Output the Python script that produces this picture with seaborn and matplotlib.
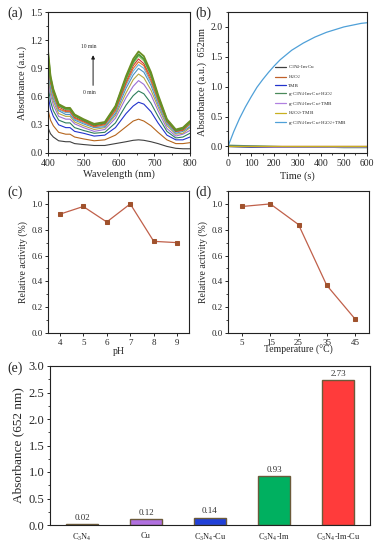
import numpy as np
import matplotlib
matplotlib.use("Agg")
import matplotlib.pyplot as plt
from matplotlib.ticker import MultipleLocator
import seaborn as sns

# ---- (a) UV-vis spectra over 10 min ----
wl = [400, 407, 415, 430, 450, 462, 475, 500, 530, 560, 590, 620, 640, 655, 670, 690, 710, 735, 760, 780, 800]
spec_gray = [0.27, 0.205, 0.17, 0.13, 0.12, 0.12, 0.10, 0.09, 0.08, 0.08, 0.10, 0.12, 0.135, 0.14, 0.135, 0.12, 0.10, 0.07, 0.05, 0.045, 0.045]
spec_brown = [0.46, 0.35, 0.29, 0.22, 0.20, 0.20, 0.17, 0.15, 0.13, 0.14, 0.19, 0.28, 0.34, 0.36, 0.34, 0.29, 0.22, 0.14, 0.10, 0.10, 0.11]
spec_blue = [0.62, 0.47, 0.39, 0.30, 0.27, 0.27, 0.23, 0.21, 0.18, 0.19, 0.27, 0.42, 0.50, 0.54, 0.52, 0.44, 0.32, 0.19, 0.14, 0.14, 0.17]
spec_teal = [0.72, 0.55, 0.45, 0.35, 0.32, 0.32, 0.27, 0.24, 0.21, 0.22, 0.32, 0.51, 0.61, 0.66, 0.63, 0.53, 0.39, 0.23, 0.16, 0.17, 0.21]
spec_purple = [0.82, 0.62, 0.51, 0.39, 0.36, 0.36, 0.31, 0.27, 0.23, 0.25, 0.37, 0.59, 0.71, 0.77, 0.73, 0.62, 0.45, 0.26, 0.18, 0.20, 0.24]
spec_olive = [0.88, 0.66, 0.55, 0.42, 0.39, 0.39, 0.33, 0.29, 0.25, 0.27, 0.40, 0.64, 0.78, 0.84, 0.80, 0.67, 0.49, 0.29, 0.20, 0.21, 0.27]
spec_steel = [0.93, 0.70, 0.58, 0.45, 0.41, 0.41, 0.35, 0.31, 0.27, 0.28, 0.42, 0.69, 0.83, 0.90, 0.86, 0.72, 0.52, 0.31, 0.21, 0.23, 0.28]
spec_lblue = [0.97, 0.73, 0.60, 0.46, 0.43, 0.43, 0.36, 0.32, 0.28, 0.29, 0.44, 0.72, 0.87, 0.94, 0.90, 0.75, 0.54, 0.32, 0.22, 0.24, 0.30]
spec_orange = [0.99, 0.75, 0.62, 0.47, 0.44, 0.44, 0.37, 0.33, 0.28, 0.30, 0.45, 0.74, 0.90, 0.97, 0.93, 0.77, 0.56, 0.33, 0.23, 0.24, 0.31]
spec_red = [1.02, 0.77, 0.64, 0.49, 0.45, 0.45, 0.38, 0.34, 0.29, 0.31, 0.47, 0.76, 0.93, 1.00, 0.95, 0.80, 0.58, 0.34, 0.23, 0.25, 0.32]
spec_lgreen = [1.05, 0.79, 0.65, 0.50, 0.46, 0.46, 0.39, 0.35, 0.30, 0.32, 0.48, 0.78, 0.95, 1.03, 0.98, 0.82, 0.59, 0.35, 0.24, 0.26, 0.32]
spec_green = [1.06, 0.80, 0.66, 0.51, 0.47, 0.47, 0.40, 0.35, 0.30, 0.32, 0.49, 0.80, 0.97, 1.05, 1.00, 0.84, 0.60, 0.35, 0.24, 0.26, 0.33]
spec_top = [1.09, 0.82, 0.68, 0.52, 0.48, 0.48, 0.41, 0.36, 0.31, 0.33, 0.50, 0.82, 1.00, 1.08, 1.03, 0.86, 0.62, 0.36, 0.25, 0.27, 0.34]

spectra = [spec_gray, spec_brown, spec_blue, spec_teal, spec_purple, spec_olive, spec_steel,
           spec_lblue, spec_orange, spec_red, spec_lgreen, spec_green, spec_top]
spec_colors = ['#404040', '#b5651d', '#2233cc', '#2e7d5b', '#9b6fd6', '#b5a642', '#4a90c0',
               '#6cb0e0', '#e07020', '#d03030', '#90c060', '#4a9a3a', '#6b8e23']

# ---- (b) kinetics at 652 nm ----
t_full = [0, 25, 50, 75, 100, 125, 150, 175, 200, 225, 250, 275, 300, 325, 350, 375, 400,
          425, 450, 475, 500, 525, 550, 575, 600]
kin_all = [0.00, 0.25, 0.47, 0.66, 0.83, 0.99, 1.12, 1.24, 1.35, 1.45, 1.53, 1.61, 1.67, 1.73,
           1.78, 1.83, 1.87, 1.91, 1.94, 1.97, 2.00, 2.02, 2.04, 2.06, 2.07]
t_coarse = [0, 100, 200, 300, 400, 500, 600]
kin_imcu = [0.00, -0.01, -0.01, -0.01, -0.01, -0.01, -0.01]
kin_h2o2 = [0.01, 0.00, 0.00, 0.00, 0.00, 0.00, 0.00]
kin_tmb = [0.00, -0.01, -0.01, -0.01, -0.01, -0.01, -0.01]
kin_imcu_h2o2 = [0.02, 0.01, 0.00, -0.01, -0.01, -0.02, -0.02]
kin_imcu_tmb = [0.00, 0.00, -0.01, -0.01, -0.01, -0.01, -0.01]
kin_h2o2_tmb = [0.01, 0.01, 0.01, 0.01, 0.01, 0.01, 0.01]
kin_labels = ['C$_3$N$_4$-Im-Cu', 'H$_2$O$_2$', 'TMB', 'g-C$_3$N$_4$-Im-Cu+H$_2$O$_2$',
              'g-C$_3$N$_4$-Im-Cu+TMB', 'H$_2$O$_2$+TMB', 'g-C$_3$N$_4$-Im-Cu+H$_2$O$_2$+TMB']
kin_colors = ['#404040', '#c0602a', '#2233cc', '#4a8a5a', '#b080e0', '#c8b020', '#4fa0d8']

# ---- (c) pH and (d) temperature ----
ph = [4, 5, 6, 7, 8, 9]
ph_act = [0.92, 0.98, 0.86, 1.00, 0.71, 0.70]
temp = [5, 15, 25, 35, 45]
temp_act = [0.98, 1.00, 0.84, 0.37, 0.11]

# ---- (e) bars ----
cats = ['C$_3$N$_4$', 'Cu', 'C$_3$N$_4$-Cu', 'C$_3$N$_4$-Im', 'C$_3$N$_4$-Im-Cu']
absb = [0.02, 0.12, 0.14, 0.93, 2.73]
bar_colors = ['#303030', '#b070e0', '#2040d8', '#00b060', '#ff3b3b']

sns.set_theme(style='ticks')
plt.rcParams['font.family'] = ['Liberation Serif', 'DejaVu Serif']
plt.rcParams['mathtext.fontset'] = 'custom'
plt.rcParams['mathtext.rm'] = 'Liberation Serif'
plt.rcParams['mathtext.default'] = 'regular'
plt.rcParams['axes.edgecolor'] = '#222222'
plt.rcParams['axes.linewidth'] = 0.8

fig = plt.figure(figsize=(3.75, 5.5), dpi=100)
W, H = 375, 550


def box(l, t, r, b):
    return fig.add_axes([l / W, 1 - b / H, (r - l) / W, (b - t) / H])


def style(ax, fs):
    ax.tick_params(direction='out', length=2.5, width=0.7, labelsize=fs, pad=1.5)
    ax.tick_params(which='minor', direction='out', length=1.5, width=0.6)
    for s in ax.spines.values():
        s.set_visible(True)


# (a)
ax = box(48, 12, 190, 153)
for y, c in zip(spectra, spec_colors):
    lw = 1.3 if c in ('#4a9a3a', '#6b8e23') else 0.8
    sns.lineplot(x=wl, y=y, ax=ax, color=c, lw=lw)
ax.set_xlim(400, 800)
ax.set_ylim(0, 1.5)
ax.xaxis.set_major_locator(MultipleLocator(100))
ax.xaxis.set_minor_locator(MultipleLocator(50))
ax.yaxis.set_major_locator(MultipleLocator(0.3))
ax.yaxis.set_minor_locator(MultipleLocator(0.15))
style(ax, 7)
ax.set_xlabel('Wavelength (nm)', fontsize=7.5, labelpad=1)
ax.set_ylabel('Absorbance (a.u.)', fontsize=7.5, labelpad=2)
ax.annotate('', xy=(527, 1.07), xytext=(527, 0.69),
            arrowprops=dict(arrowstyle='-|>', lw=0.7, color='k', mutation_scale=5))
ax.text(515, 1.13, '10 min', fontsize=4, ha='center', va='center')
ax.text(517, 0.64, '0 min', fontsize=4, ha='center', va='center')
fig.text(7 / W, 1 - 13 / H, '(a)', fontsize=10, va='center')

# (b)
ax = box(228, 12, 367, 153)
for y, c, lab in zip([kin_imcu, kin_h2o2, kin_tmb, kin_imcu_h2o2, kin_imcu_tmb, kin_h2o2_tmb],
                     kin_colors[:6], kin_labels[:6]):
    sns.lineplot(x=t_coarse, y=y, ax=ax, color=c, lw=0.9, label=lab)
sns.lineplot(x=t_full, y=kin_all, ax=ax, color=kin_colors[6], lw=0.9, label=kin_labels[6])
ax.set_xlim(0, 600)
ax.set_ylim(-0.11, 2.25)
ax.xaxis.set_major_locator(MultipleLocator(100))
ax.xaxis.set_minor_locator(MultipleLocator(50))
ax.yaxis.set_major_locator(MultipleLocator(0.5))
ax.yaxis.set_minor_locator(MultipleLocator(0.25))
style(ax, 7)
ax.set_xlabel('Time (s)', fontsize=7.5, labelpad=3)
ax.set_ylabel('Absorbance (a.u.)  652nm', fontsize=7.5, labelpad=2)
ax.legend(loc='upper left', bbox_to_anchor=(0.32, 0.65), frameon=False, fontsize=3.6,
          labelspacing=0.4, handlelength=2.2, handletextpad=0.4, borderpad=0)
fig.text(195 / W, 1 - 13 / H, '(b)', fontsize=10, va='center')

# (c)
ax = box(48, 191, 189, 333)
sns.lineplot(x=ph, y=ph_act, ax=ax, color='#c0604a', lw=0.9, marker='s', markersize=3.5,
             markerfacecolor='#a0522d', markeredgecolor='#a0522d')
ax.set_xlim(3.5, 9.5)
ax.set_ylim(0, 1.1)
ax.xaxis.set_major_locator(MultipleLocator(1))
ax.yaxis.set_major_locator(MultipleLocator(0.2))
ax.yaxis.set_minor_locator(MultipleLocator(0.1))
style(ax, 6.5)
ax.set_xlabel('pH', fontsize=7, labelpad=0)
ax.set_ylabel('Relative activity (%)', fontsize=7, labelpad=2)
fig.text(7 / W, 1 - 192 / H, '(c)', fontsize=10, va='center')

# (d)
ax = box(228, 191, 369, 333)
sns.lineplot(x=temp, y=temp_act, ax=ax, color='#c0604a', lw=0.9, marker='s', markersize=3.5,
             markerfacecolor='#a0522d', markeredgecolor='#a0522d')
ax.set_xlim(0, 50)
ax.set_ylim(0, 1.1)
ax.set_xticks(temp)
ax.yaxis.set_major_locator(MultipleLocator(0.2))
ax.yaxis.set_minor_locator(MultipleLocator(0.1))
style(ax, 6.5)
ax.set_xlabel('Temperature (°C)', fontsize=7, labelpad=-1)
ax.set_ylabel('Relative activity (%)', fontsize=7, labelpad=2)
fig.text(195 / W, 1 - 192 / H, '(d)', fontsize=10, va='center')

# (e)
ax = box(50, 366, 370, 525)
sns.barplot(x=cats, y=absb, hue=cats, palette=bar_colors, legend=False, ax=ax, width=0.5,
            edgecolor='#6b5a3a', linewidth=1.0, saturation=1)
for i, v in enumerate(absb):
    ax.text(i, v + 0.04, f'{v:.2f}', ha='center', va='bottom', fontsize=6.5, color='#333333')
ax.set_xlim(-0.5, 4.5)
ax.set_ylim(0, 3.0)
ax.yaxis.set_major_locator(MultipleLocator(0.5))
ax.yaxis.set_minor_locator(MultipleLocator(0.25))
style(ax, 9)
ax.tick_params(axis='x', labelsize=6, length=0, pad=5)
ax.set_ylabel('Absorbance (652 nm)', fontsize=9.5, labelpad=3)
fig.text(7 / W, 1 - 368 / H, '(e)', fontsize=10, va='center')

fig.savefig('out.png', dpi=100)
